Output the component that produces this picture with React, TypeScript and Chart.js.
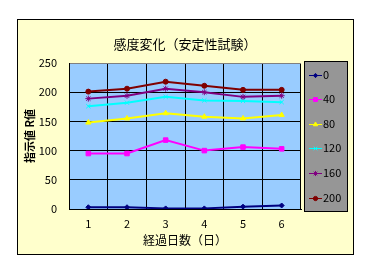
import React, { useEffect, useRef } from 'react';
import { Chart, registerables } from 'chart.js';
import { drawPoint } from 'chart.js/helpers';

Chart.register(...registerables);

const days = ['1', '2', '3', '4', '5', '6'];
const seriesNames = ['0', '40', '80', '120', '160', '200'];
const s0 = [3, 3, 1, 1, 4, 6];
const s40 = [95, 95, 118, 100, 106, 103];
const s80 = [148, 155, 164, 158, 155, 161];
const s120 = [176, 182, 192, 186, 185, 183];
const s160 = [189, 194, 206, 200, 192, 194];
const s200 = [201, 206, 218, 211, 204, 204];
const seriesValues = [s0, s40, s80, s120, s160, s200];
const seriesColors = ['#000080', '#FF00FF', '#FFFF00', '#00FFFF', '#800080', '#800000'];
const seriesMarkers = ['rectRot', 'rect', 'triangle', 'crossRot', 'star', 'circle'];
const seriesRadius = [2.5, 3.2, 3, 3, 3, 2.5];
const yTicks = [0, 50, 100, 150, 200, 250];
const chartTitle = '感度変化（安定性試験）';

const FONT = "'Noto Sans CJK JP', 'Noto Sans', sans-serif";

const framePlugin = {
  id: 'frame',
  beforeDraw(chart: any) {
    const { ctx, chartArea } = chart;
    ctx.save();
    ctx.fillStyle = '#FFFFFF';
    ctx.fillRect(0, 0, chart.width, chart.height);
    ctx.fillStyle = '#FFFFCC';
    ctx.fillRect(17, 19, 336, 235);
    ctx.strokeStyle = '#000000';
    ctx.lineWidth = 1;
    ctx.strokeRect(17.5, 19.5, 336, 235);
    ctx.fillStyle = '#99CCFF';
    ctx.fillRect(chartArea.left, chartArea.top, chartArea.right - chartArea.left, chartArea.bottom - chartArea.top);
    ctx.fillStyle = '#000000';
    ctx.font = `13px ${FONT}`;
    ctx.textAlign = 'center';
    ctx.textBaseline = 'middle';
    ctx.fillText(chartTitle, (chartArea.left + chartArea.right) / 2, 44);
    ctx.restore();
  },
};

const legendPlugin = {
  id: 'boxLegend',
  afterDraw(chart: any) {
    const { ctx } = chart;
    ctx.save();
    ctx.fillStyle = '#969696';
    ctx.fillRect(304, 61, 43, 150);
    ctx.strokeStyle = '#000000';
    ctx.lineWidth = 1;
    ctx.strokeRect(304.5, 61.5, 43, 150);
    seriesNames.forEach((name, i) => {
      const y = 74.5 + i * 24.6;
      const color = seriesColors[i];
      const py = Math.round(y) + 0.5;
      ctx.strokeStyle = color;
      ctx.lineWidth = 1;
      ctx.beginPath();
      ctx.moveTo(309, py);
      ctx.lineTo(322, py);
      ctx.stroke();
      ctx.fillStyle = color;
      ctx.strokeStyle = color;
      drawPoint(ctx, { pointStyle: seriesMarkers[i], radius: seriesRadius[i] * 0.85, rotation: 0, borderWidth: 1 } as any, 315.5, py);
      ctx.fillStyle = '#000000';
      ctx.font = `11px ${FONT}`;
      ctx.textBaseline = 'middle';
      ctx.textAlign = 'left';
      ctx.fillText(name, 323, y);
    });
    ctx.restore();
  },
};

export default function App() {
  const ref = useRef<HTMLCanvasElement | null>(null);
  useEffect(() => {
    if (!ref.current) return;
    const chart = new Chart(ref.current, {
      type: 'line',
      data: {
        labels: days,
        datasets: seriesNames.map((name, i) => ({
          label: name,
          data: seriesValues[i],
          borderColor: seriesColors[i],
          backgroundColor: seriesColors[i],
          pointBackgroundColor: seriesColors[i],
          pointBorderColor: seriesColors[i],
          pointStyle: seriesMarkers[i] as any,
          pointRadius: seriesRadius[i],
          pointBorderWidth: 1,
          borderWidth: 2,
          tension: 0,
          fill: false,
        })),
      },
      options: {
        animation: false,
        responsive: false,
        devicePixelRatio: 1,
        layout: { padding: { left: 17, top: 63, right: 68, bottom: 14 } },
        plugins: {
          legend: { display: false },
          tooltip: { enabled: false },
          title: { display: false },
        },
        scales: {
          x: {
            type: 'category',
            offset: true,
            grid: {
              offset: true,
              drawTicks: false,
              lineWidth: 1,
              color: (c: any) => (c.index === days.length ? '#808080' : '#000000'),
            },
            border: { display: true, color: '#000000', width: 1 },
            ticks: { color: '#000000', font: { family: FONT, size: 11 }, padding: 8, maxRotation: 0 },
            title: {
              display: true,
              text: '経過日数（日）',
              color: '#000000',
              font: { family: FONT, size: 12, weight: 'normal' },
              padding: { top: 4, bottom: 6 },
            },
            afterFit: (s: any) => { s.height = 45; },
          },
          y: {
            min: yTicks[0],
            max: yTicks[yTicks.length - 1],
            afterBuildTicks: (s: any) => { s.ticks = yTicks.map((v) => ({ value: v })); },
            grid: {
              drawTicks: false,
              lineWidth: 1,
              color: (c: any) => (c.tick && c.tick.value === 250 ? '#808080' : '#000000'),
            },
            border: { display: true, color: '#000000', width: 1 },
            ticks: { color: '#000000', font: { family: FONT, size: 11 }, padding: 12 },
            title: {
              display: true,
              text: '指示値 R値',
              color: '#000000',
              font: { family: FONT, size: 11, weight: 'bold' },
              padding: { top: 6, bottom: 0 },
            },
            afterFit: (s: any) => { s.width = 52; },
          },
        },
      },
      plugins: [framePlugin, legendPlugin],
    });
    return () => chart.destroy();
  }, []);
  return (
    <div style={{ position: 'fixed', left: 0, top: 0, width: 369, height: 268 }}>
      <canvas ref={ref} width={369} height={268} style={{ width: 369, height: 268, display: 'block' }} />
    </div>
  );
}
